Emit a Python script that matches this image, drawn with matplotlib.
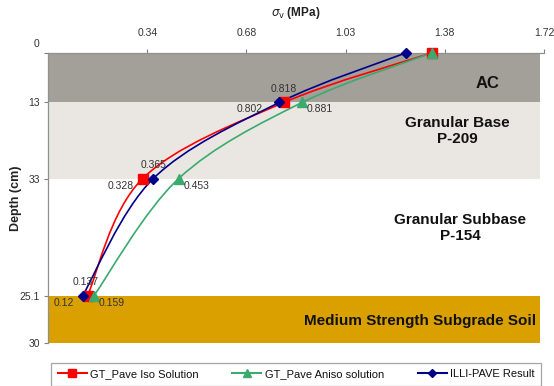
import matplotlib
matplotlib.use("Agg")
import matplotlib.pyplot as plt
from matplotlib.path import Path
from matplotlib.patches import PathPatch, Rectangle
from matplotlib.lines import Line2D
from matplotlib.transforms import offset_copy

plt.rcParams['font.family'] = ['Liberation Sans', 'DejaVu Sans']

# Depth of each layer interface (cm) and the labels printed on the depth axis
depth = [0.0, 13.0, 33.0, 63.8]
depth_ticks = [0.0, 13.0, 33.0, 63.8, 76.2]
depth_tick_labels = ['0', '13', '33', '25.1', '30']

# Vertical stress (MPa) at each interface
iso = [1.33, 0.818, 0.328, 0.137]
aniso = [1.33, 0.881, 0.453, 0.159]
illi = [1.24, 0.802, 0.365, 0.12]

stress_ticks = [0.344, 0.688, 1.032, 1.376, 1.72]
stress_tick_labels = ['0.34', '0.68', '1.03', '1.38', '1.72']

series_names = ['GT_Pave Iso Solution', 'GT_Pave Aniso solution', 'ILLI-PAVE Result']

# Layers: (top, bottom, colour, label)
layers = [
    (0.0, 13.0, '#a39f99', 'AC'),
    (13.0, 33.0, '#eae7e3', 'Granular Base\nP-209'),
    (33.0, 63.8, '#ffffff', 'Granular Subbase\nP-154'),
    (63.8, 76.2, '#d9a000', 'Medium Strength Subgrade Soil'),
]

W, H = 554, 386
fig = plt.figure(figsize=(W / 100, H / 100), dpi=100)
ax = fig.add_axes([48 / W, 1 - 343 / H, 496 / W, 290 / H])
ax.set_xlim(0, 1.72)
ax.set_ylim(76.2, 0)

band_right = 1.706
for top, bot, col, _ in layers:
    ax.add_patch(Rectangle((0, top), band_right, bot - top, facecolor=col,
                           edgecolor='none', zorder=0))

label_pos = [(1.525, 8.0), (1.42, 20.5), (1.43, 46.0), (1.29, 70.5)]
for (top, bot, col, txt), (lx, ly) in zip(layers, label_pos):
    fs = 12 if txt == 'AC' else 11
    ax.text(lx, ly, txt, ha='center', va='center', fontsize=fs,
            fontweight='bold', color='#111111', linespacing=1.25, zorder=2)


def smooth_path(xs, ys):
    """Catmull-Rom style Bezier through the points (spreadsheet smoothing)."""
    pts = list(zip(xs, ys))
    n = len(pts)
    verts = [pts[0]]
    codes = [Path.MOVETO]
    for i in range(n - 1):
        p0 = pts[i - 1] if i > 0 else pts[i]
        p1 = pts[i]
        p2 = pts[i + 1]
        p3 = pts[i + 2] if i + 2 < n else pts[i + 1]
        c1 = (p1[0] + (p2[0] - p0[0]) / 6, p1[1] + (p2[1] - p0[1]) / 6)
        c2 = (p2[0] - (p3[0] - p1[0]) / 6, p2[1] - (p3[1] - p1[1]) / 6)
        verts += [c1, c2, p2]
        codes += [Path.CURVE4] * 3
    return Path(verts, codes)


styles = [
    (iso, '#ff0000', 's', 6.5),
    (aniso, '#3aaa6e', '^', 6.5),
    (illi, '#000088', 'D', 5.5),
]

handles = []
for (vals, col, mk, ms), name in zip(styles, series_names):
    patch = PathPatch(smooth_path(vals, depth), facecolor='none', edgecolor=col,
                      linewidth=1.2, zorder=3)
    ax.add_patch(patch)
    ax.plot(vals, depth, ls='none', marker=mk, ms=ms, color=col, zorder=4,
            clip_on=False)
    handles.append(Line2D([], [], color=col, lw=1.5, marker=mk, ms=ms - 1))

# Value annotations: (value, depth, dx, dy, ha) with offsets in points
notes = [
    (iso[1], depth[1], 0, 9.5, 'center'),
    (illi[1], depth[1], -12, -4.5, 'right'),
    (aniso[1], depth[1], 3.5, -5, 'left'),
    (illi[2], depth[2], 0, 10, 'center'),
    (iso[2], depth[2], -6.5, -5, 'right'),
    (aniso[2], depth[2], 3.5, -5, 'left'),
    (iso[3], depth[3], -1.5, 10, 'center'),
    (illi[3], depth[3], -6.5, -5, 'right'),
    (aniso[3], depth[3], 3.5, -5, 'left'),
]
for v, d, dx, dy, ha in notes:
    ax.annotate(f'{v:g}', (v, d), xytext=(dx, dy), textcoords='offset points',
                ha=ha, va='center', fontsize=7.5, color='#333333', zorder=5)

# Axes styling: value axis on top, depth axis on the left
ax.xaxis.tick_top()
ax.set_xticks(stress_ticks)
ax.set_xticklabels(stress_tick_labels)
ax.set_yticks(depth_ticks)
ax.set_yticklabels(depth_tick_labels)
ax.tick_params(axis='x', direction='out', length=3, width=0.8, color='#808080',
               labelsize=7.5, labelcolor='#333333', pad=8)
ax.tick_params(axis='y', direction='out', length=3, width=0.8, color='#808080',
               labelsize=7.5, labelcolor='#333333', pad=3)
for side in ('right', 'bottom'):
    ax.spines[side].set_visible(False)
for side in ('top', 'left'):
    ax.spines[side].set_color('#909090')
    ax.spines[side].set_linewidth(0.9)
ax.set_facecolor('none')

# The "0" depth label sits a little above the top axis line
for lab in ax.get_yticklabels():
    if lab.get_text() == '0':
        lab.set_transform(offset_copy(lab.get_transform(), fig=fig, x=0, y=7,
                                      units='points'))

fig.text(296 / W, 1 - 13 / H, r'$\sigma_\mathrm{v}$ (MPa)', ha='center',
         va='center', fontsize=8.5, fontweight='bold', color='#222222')
fig.text(16 / W, 1 - 198 / H, 'Depth (cm)', rotation=90, ha='center',
         va='center', fontsize=9, fontweight='bold', color='#222222')

leg = fig.legend(handles, series_names, loc='upper left',
                 bbox_to_anchor=(51 / W, 1 - 363 / H, 490 / W, 0.001),
                 mode='expand', ncol=3, fontsize=8, frameon=True,
                 fancybox=False, edgecolor='#909090', handlelength=2.6,
                 handletextpad=0.3, borderpad=0.6, numpoints=1,
                 borderaxespad=0)
leg.get_frame().set_linewidth(0.9)
for t in leg.get_texts():
    t.set_color('#111111')

fig.savefig('out.png', dpi=100)
